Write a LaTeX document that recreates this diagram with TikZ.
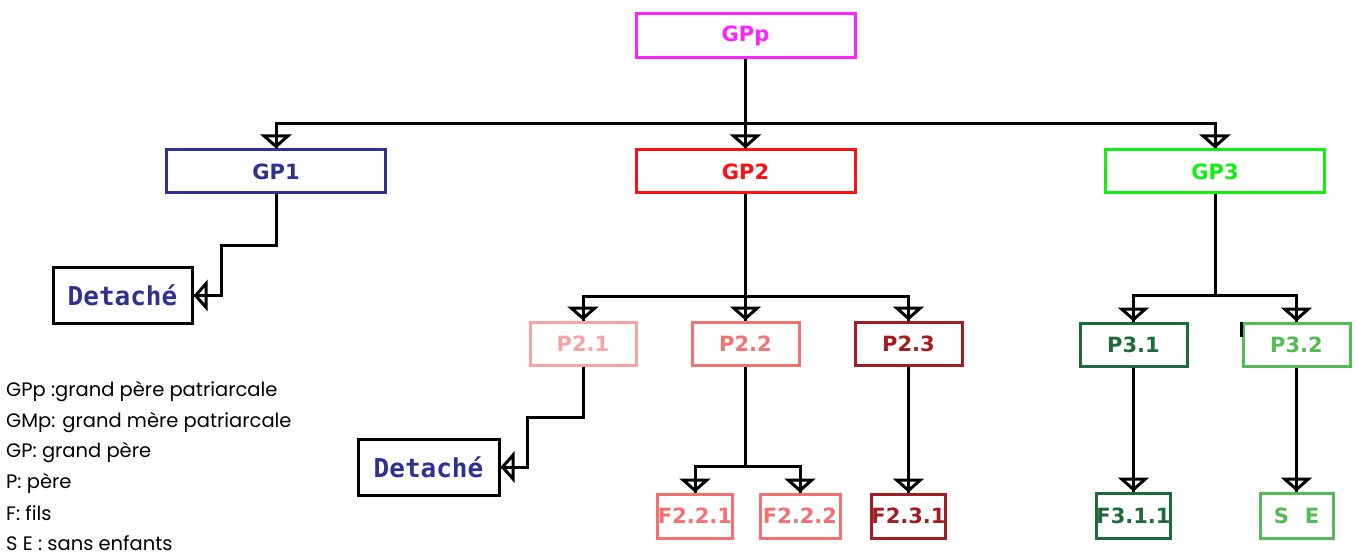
\documentclass[tikz,border=0pt]{standalone}
\usepackage{fontspec}
\setmainfont{Poppins}
\newfontfamily\lblfont{DejaVu Sans}
\newfontfamily\monofont{DejaVu Sans Mono}
\usetikzlibrary{arrows.meta,calc}
\definecolor{cGPp}{HTML}{FF22FF}
\definecolor{cGPa}{HTML}{2E3192}
\definecolor{cGPb}{HTML}{FF1010}
\definecolor{cGPc}{HTML}{10F010}
\definecolor{cPa}{HTML}{F5A3A3}
\definecolor{cPb}{HTML}{F27171}
\definecolor{cPc}{HTML}{A01E22}
\definecolor{cGa}{HTML}{1E6B3A}
\definecolor{cGb}{HTML}{55BB55}
\tikzset{
  box/.style={draw, line width=3pt, inner sep=0pt, font=\lblfont\bfseries\fontsize{21}{21}\selectfont},
  detbox/.style={draw=black, line width=3pt, inner sep=0pt, text=cGPa, font=\monofont\bfseries\fontsize{26}{26}\selectfont, minimum width=139pt, minimum height=55pt},
  plain/.style={line width=3pt, draw=black},
  conn/.style={line width=3pt, draw=black, postaction={draw=black, -{Triangle[open, length=14pt, width=31pt, line width=3pt]}}},
  leg/.style={anchor=west, inner sep=0pt, font=\fontsize{19.5}{19.5}\selectfont}
}
\begin{document}
\begin{tikzpicture}[x=1pt, y=-1pt]
\useasboundingbox (0,0) rectangle (1358,556);
% level 0
\node[box, draw=cGPp, text=cGPp, minimum width=219pt, minimum height=44pt] (GPp) at (745.5,36) {GPp};
% level 1
\node[box, draw=cGPa, text=cGPa, minimum width=219pt, minimum height=43pt] (GP1) at (276,171.5) {GP1};
\node[box, draw=cGPb, text=cGPb, minimum width=219pt, minimum height=43pt] (GP2) at (745.5,171.5) {GP2};
\node[box, draw=cGPc, text=cGPc, minimum width=219pt, minimum height=43pt] (GP3) at (1215,171.5) {GP3};
% detached
\node[detbox] (D1) at (122.5,295.5) {Detaché};
\node[detbox, minimum width=141pt, minimum height=56pt] (D2) at (428.5,467) {Detaché};
% level 2
\node[box, draw=cPa, text=cPa, minimum width=106pt, minimum height=43pt] (P21) at (583,343.5) {P2.1};
\node[box, draw=cPb, text=cPb, minimum width=107pt, minimum height=43pt] (P22) at (745.5,343.5) {P2.2};
\node[box, draw=cPc, text=cPc, minimum width=107pt, minimum height=43pt] (P23) at (908.5,343.5) {P2.3};
\node[box, draw=cGa, text=cGa, minimum width=107pt, minimum height=43pt] (P31) at (1133.5,344.5) {P3.1};
\node[box, draw=cGb, text=cGb, minimum width=107pt, minimum height=43pt] (P32) at (1296.5,344.5) {P3.2};
% level 3
\node[box, draw=cPb, text=cPb, minimum width=74pt, minimum height=44pt] (F221) at (695,516) {F2.2.1};
\node[box, draw=cPb, text=cPb, minimum width=80pt, minimum height=44pt] (F222) at (800,516) {F2.2.2};
\node[box, draw=cPc, text=cPc, minimum width=73pt, minimum height=44pt] (F231) at (908.5,516) {F2.3.1};
\node[box, draw=cGa, text=cGa, minimum width=73pt, minimum height=45pt] (F311) at (1133.5,515.5) {F3.1.1};
\node[box, draw=cGb, text=cGb, minimum width=73pt, minimum height=45pt] (SE) at (1296.5,515.5) {S\hspace{16pt}E};
% connectors level 0 -> 1
\coordinate (b0) at (745.5,124);
\draw[plain] (GPp.south) -- (b0);
\draw[conn] (b0) -| (GP1.north);
\draw[conn] (b0) -- (GP2.north);
\draw[conn] (b0) -| (GP3.north);
% GP1 -> detached
\coordinate (j1) at (221,246);
\draw[conn] (GP1.south) |- (j1) |- (D1.east);
% GP2 -> P2.x
\coordinate (b2) at (745.5,296);
\draw[plain] (GP2.south) -- (b2);
\draw[conn] (b2) -| (P21.north);
\draw[conn] (b2) -- (P22.north);
\draw[conn] (b2) -| (P23.north);
% P2.1 -> detached
\coordinate (j2) at (527,417);
\draw[conn] (P21.south) |- (j2) |- (D2.east);
% P2.2 -> F
\coordinate (b3) at (745.5,466);
\draw[plain] (P22.south) -- (b3);
\draw[conn] (b3) -| (F221.north);
\draw[conn] (b3) -| (F222.north);
% P2.3 -> F2.3.1
\draw[conn] (P23.south) -- (F231.north);
% GP3 -> P3.x
\coordinate (b4) at (1215,295);
\draw[plain] (GP3.south) -- (b4);
\draw[conn] (b4) -| (P31.north);
\draw[conn] (b4) -| (P32.north);
\draw[conn] (P31.south) -- (F311.north);
\draw[conn] (P32.south) -- (SE.north);
\draw[line width=2.5pt] (P32.north west) -- ++(0,15);
% legend
\node[leg] (l1) at (6,392) {GPp :grand père patriarcale};
\node[leg] (l2) at (6,422.5) {GMp: grand mère patriarcale};
\node[leg] (l3) at (6,453) {GP: grand père};
\node[leg] (l4) at (6,483) {P: père};
\node[leg] (l5) at (6,513.5) {F: fils};
\node[leg] (l6) at (6,543) {S E : sans enfants};
\end{tikzpicture}
\end{document}
